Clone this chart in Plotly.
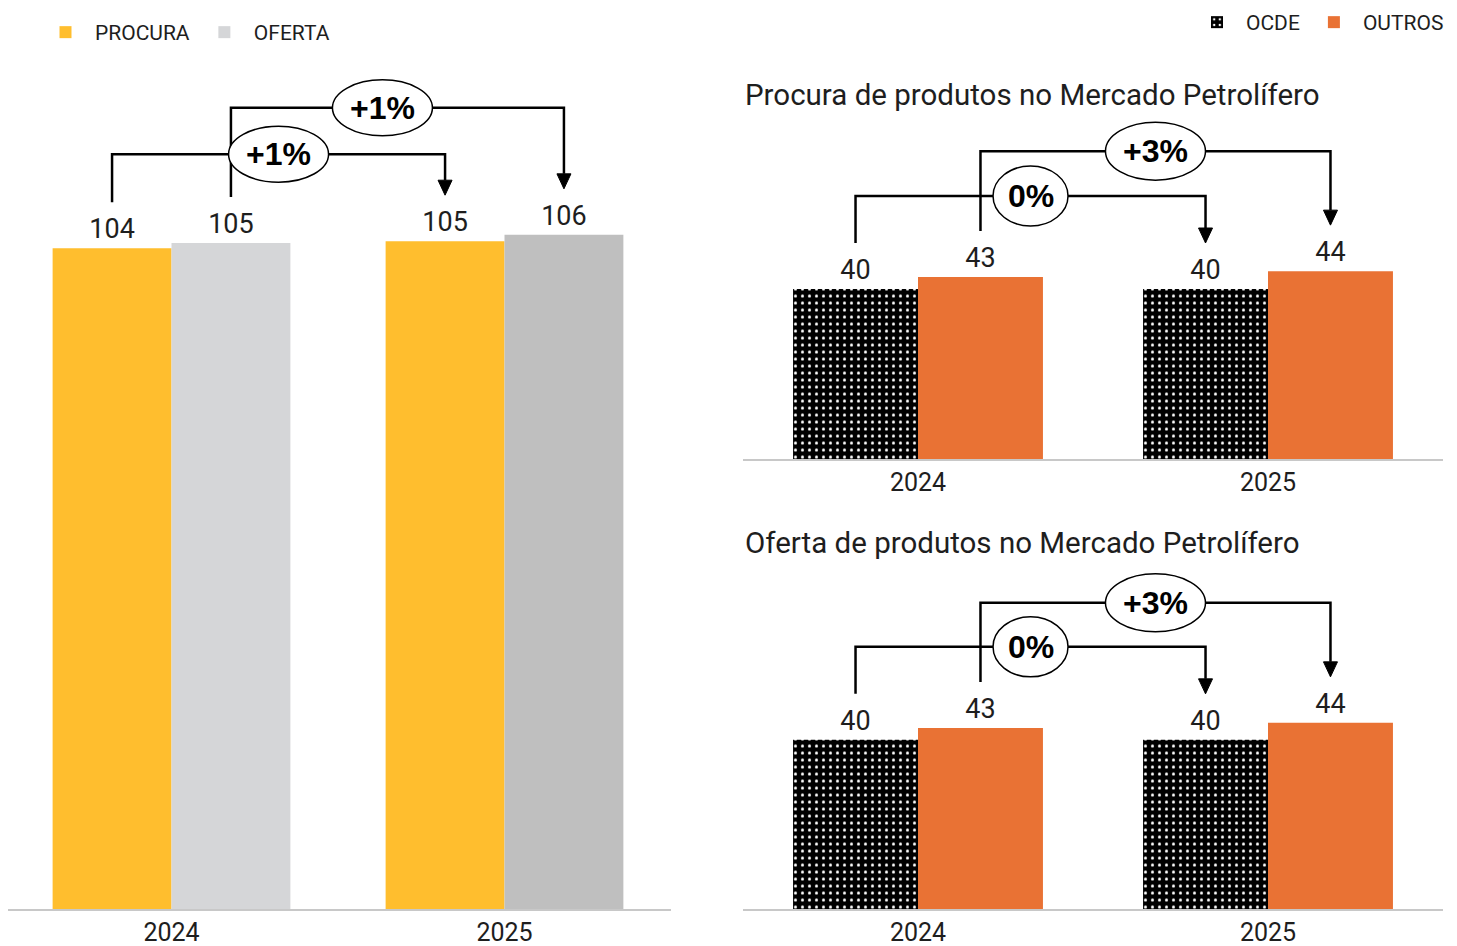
import plotly.graph_objects as go

# page body adds an 8px margin: figure is drawn 8px right/down of the window origin
OFF = 8
W, H = 1457 - 2 * OFF, 946 - OFF

# ---------------- data ----------------
years = ["2024", "2025"]
procura = [103.9, 105.0]
oferta = [104.7, 106.0]
proc_ocde = [40.0, 40.0]
proc_outros = [42.8, 44.2]
ofer_ocde = [39.8, 39.8]
ofer_outros = [42.6, 43.8]
var_left = ["+1%", "+1%"]      # PROCURA, OFERTA
var_proc = ["0%", "+3%"]       # OCDE, OUTROS
var_ofer = ["0%", "+3%"]       # OCDE, OUTROS
title_proc = "Procura de produtos no Mercado Petrolífero"
title_ofer = "Oferta de produtos no Mercado Petrolífero"

# ---------------- styles ----------------
C_PROC = "#FFBE2E"
C_OFER = ["#D5D6D8", "#BFBFBF"]
C_OUTROS = "#E97234"
NUM_FONT = "Roboto, sans-serif"
TXT_FONT = "Roboto, sans-serif"
BOLD_FONT = "Liberation Sans, Arial, sans-serif"
TXT_COLOR = "#1e1e1e"
BW = 0.357


def fx(px):   # window x pixel -> paper fraction
    return (px - OFF) / W


def fy(py):   # window y pixel (from top) -> paper fraction
    return 1 - (py - OFF) / H


# subplot geometry in window pixels
subplots = {
    "left": dict(x=(OFF, 671), c0=171.5, sp=333.0, bottom=909, rng=132, ppu=6.36),
    "rtop": dict(x=(743, 1443), c0=918.0, sp=350.0, bottom=459, rng=82, ppu=4.25),
    "rbot": dict(x=(743, 1443), c0=918.0, sp=350.0, bottom=909, rng=82, ppu=4.25),
}
for s in subplots.values():
    top = s["bottom"] - s["rng"] * s["ppu"]
    s["ydom"] = [fy(s["bottom"]), fy(top)]
    s["xdom"] = [fx(s["x"][0]), fx(s["x"][1])]
    s["xrng"] = [(s["x"][0] - s["c0"]) / s["sp"], (s["x"][1] - s["c0"]) / s["sp"]]
    s["ppx"] = s["sp"]

fig = go.Figure()
xs = [0, 1]


def add_bar(ax, vals, name, color, offset, legend, showlegend, pattern=None):
    marker = dict(color=color, line=dict(width=0))
    if pattern:
        marker["pattern"] = pattern
    fig.add_trace(go.Bar(
        x=xs, y=vals, name=name, width=BW, offset=offset,
        marker=marker, texttemplate="%{y:.0f}", textposition="outside",
        textfont=dict(family=NUM_FONT, size=27, color=TXT_COLOR),
        cliponaxis=False, xaxis="x" + ax, yaxis="y" + ax,
        legend=legend, showlegend=showlegend, hoverinfo="skip",
    ))


dots = dict(shape=".", fgcolor="white", bgcolor="black", size=7, solidity=0.15, fillmode="replace")

add_bar("", procura, "PROCURA", C_PROC, -BW, "legend", True)
add_bar("", oferta, "OFERTA", C_OFER, 0, "legend", True)
add_bar("2", proc_ocde, "OCDE", "black", -BW, "legend2", True, dots)
add_bar("2", proc_outros, "OUTROS", C_OUTROS, 0, "legend2", True)
add_bar("3", ofer_ocde, "OCDE", "black", -BW, "legend2", False, dots)
add_bar("3", ofer_outros, "OUTROS", C_OUTROS, 0, "legend2", False)

shapes, annotations = [], []


def bracket(key, ax, first, second, left_bar, level_px, label, shift_px, ew, eh):
    s = subplots[key]
    ppu, ppx = s["ppu"], s["ppx"]
    xa, ya = "x" + ax, "y" + ax
    off = -BW / 2 if left_bar else BW / 2
    x0, x1 = 0 + off, 1 + off
    gap = 46 / ppu
    ys = first + gap
    yt = second + gap
    yh = max(first, second) + level_px / ppu
    ah, aw = 15 / ppu, 7 / ppx
    shapes.append(dict(type="path", xref=xa, yref=ya,
                       path=f"M{x0},{ys} L{x0},{yh} L{x1},{yh} L{x1},{yt + ah}",
                       line=dict(color="black", width=2.5)))
    shapes.append(dict(type="path", xref=xa, yref=ya,
                       path=f"M{x1 - aw},{yt + ah} L{x1 + aw},{yt + ah} L{x1},{yt} Z",
                       fillcolor="black", line=dict(color="black", width=1)))
    cx = (x0 + x1) / 2 + shift_px / ppx
    return dict(cx=cx, cy=yh, ew=ew / 2 / ppx, eh=eh / 2 / ppu, xa=xa, ya=ya, label=label)


ell = []
ell.append(bracket("left", "", procura[0], procura[1], True, 87, var_left[0], 0, 100, 56))
ell.append(bracket("left", "", oferta[0], oferta[1], False, 127, var_left[1], -15, 100, 56))
ell.append(bracket("rtop", "2", proc_ocde[0], proc_ocde[1], True, 93, var_proc[0], 0, 75, 60))
ell.append(bracket("rtop", "2", proc_outros[0], proc_outros[1], False, 120, var_proc[1], 0, 100, 58))
ell.append(bracket("rbot", "3", ofer_ocde[0], ofer_ocde[1], True, 93, var_ofer[0], 0, 75, 60))
ell.append(bracket("rbot", "3", ofer_outros[0], ofer_outros[1], False, 120, var_ofer[1], 0, 100, 58))

for e in ell:
    shapes.append(dict(type="circle", xref=e["xa"], yref=e["ya"],
                       x0=e["cx"] - e["ew"], x1=e["cx"] + e["ew"],
                       y0=e["cy"] - e["eh"], y1=e["cy"] + e["eh"],
                       fillcolor="white", line=dict(color="black", width=1.5)))
    annotations.append(dict(x=e["cx"], y=e["cy"], xref=e["xa"], yref=e["ya"], text=f"<b>{e['label']}</b>",
                            showarrow=False, font=dict(family=BOLD_FONT, size=32, color="black"),
                            xanchor="center", yanchor="middle"))

for t, ypx in [(title_proc, 95), (title_ofer, 543)]:
    annotations.append(dict(x=fx(743), y=fy(ypx), xref="paper", yref="paper", text=t,
                            showarrow=False, xanchor="left", yanchor="middle",
                            font=dict(family=TXT_FONT, size=29.5, color=TXT_COLOR)))


def xaxis_style(s, anchor):
    return dict(range=s["xrng"], domain=s["xdom"], anchor=anchor, tickvals=xs, ticktext=years,
                showline=True, linecolor="#C8C8C8", linewidth=2, ticks="", showgrid=False,
                zeroline=False, tickfont=dict(family=NUM_FONT, size=25, color=TXT_COLOR),
                automargin=False, fixedrange=True)


def yaxis_style(s, anchor):
    return dict(range=[0, s["rng"]], domain=s["ydom"], anchor=anchor, visible=False,
                showgrid=False, zeroline=False, fixedrange=True)


L, RT, RB = subplots["left"], subplots["rtop"], subplots["rbot"]
fig.update_layout(
    width=W, height=H, margin=dict(l=0, r=0, t=0, b=0, autoexpand=False),
    paper_bgcolor="white", plot_bgcolor="white", barmode="overlay",
    xaxis=xaxis_style(L, "y"), yaxis=yaxis_style(L, "x"),
    xaxis2=xaxis_style(RT, "y2"), yaxis2=yaxis_style(RT, "x2"),
    xaxis3=xaxis_style(RB, "y3"), yaxis3=yaxis_style(RB, "x3"),
    legend=dict(orientation="h", x=fx(36), y=fy(12), xanchor="left", yanchor="top",
                font=dict(family=TXT_FONT, size=21, color=TXT_COLOR), bgcolor="rgba(0,0,0,0)",
                traceorder="normal", itemwidth=49),
    legend2=dict(orientation="h", x=fx(1449), y=fy(2), xanchor="right", yanchor="top",
                 font=dict(family=TXT_FONT, size=21, color=TXT_COLOR), bgcolor="rgba(0,0,0,0)",
                 traceorder="normal", itemwidth=48),
    shapes=shapes, annotations=annotations,
)

fig.write_html("out.html")
